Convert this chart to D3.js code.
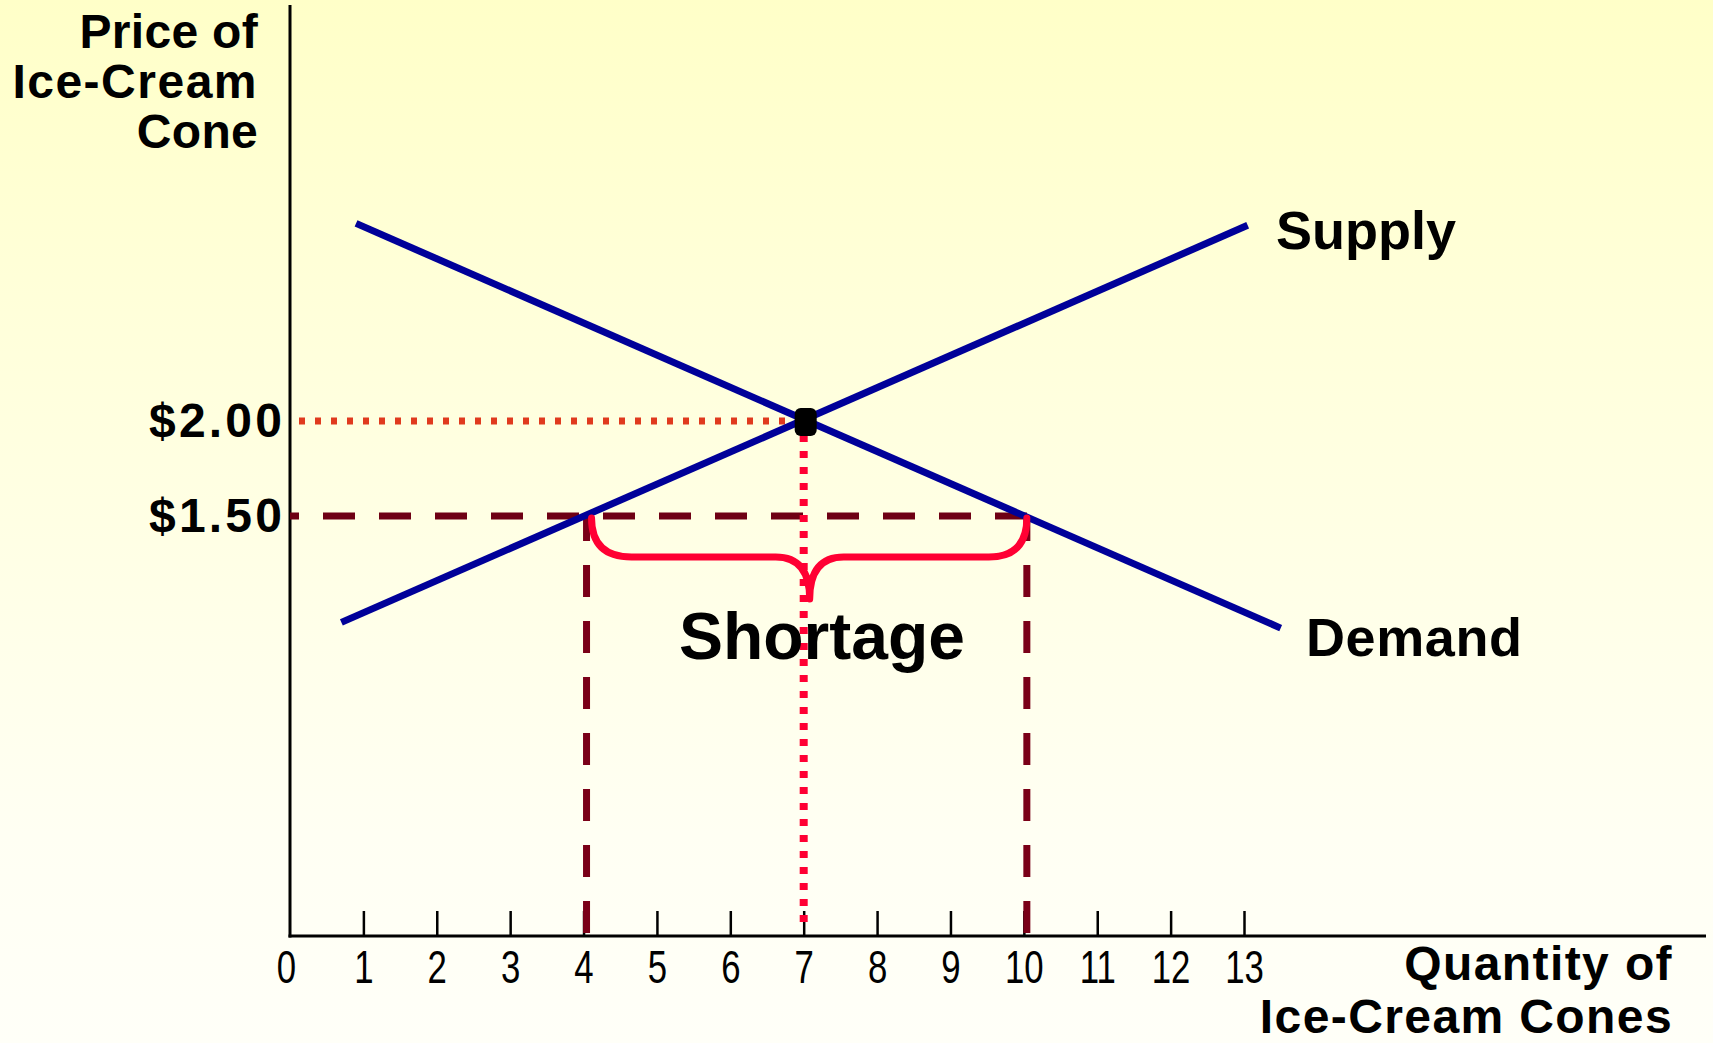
<!DOCTYPE html>
<html>
<head>
<meta charset="utf-8">
<script src="https://cdn.jsdelivr.net/npm/d3@7"></script>
<style>
  html, body { margin: 0; padding: 0; background: #fffff0; }
  svg { display: block; }
  text { font-family: "Liberation Sans", Arial, Helvetica, sans-serif; }
</style>
</head>
<body>
<svg id="chart" width="1713" height="1043"></svg>
<script>
// ---------- data ----------
const quantityTicks = [0, 1, 2, 3, 4, 5, 6, 7, 8, 9, 10, 11, 12, 13];
const priceTicks = [1.5, 2.0];
const priceTickLabels = ["$1.50", "$2.00"];
const supplyQ = [0.7, 13.05];
const supplyP = [0.94, 3.03];
const demandQ = [0.9, 13.5];
const demandP = [3.04, 0.91];
const equilibrium = { q: 7, p: 2.0 };
const shortagePrice = 1.5;
const quantitySupplied = 4;
const quantityDemanded = 10;
const yTitleLines = ["Price of", "Ice-Cream", "Cone"];
const xTitleLines = ["Quantity of", "Ice-Cream Cones"];

// ---------- layout ----------
const W = 1713, H = 1043;
const originX = 290, axisY = 936, axisTop = 5, axisRight = 1706;

const svg = d3.select("#chart");
const defs = svg.append("defs");
const grad = defs.append("linearGradient").attr("id", "bg")
  .attr("x1", 0).attr("y1", 0).attr("x2", 0).attr("y2", 1);
[[0, "#ffffc8"], [0.3, "#ffffda"], [0.8, "#fffff3"], [1, "#fffff8"]]
  .forEach(([o, c]) => grad.append("stop").attr("offset", o).attr("stop-color", c));
svg.append("rect").attr("width", W).attr("height", H).attr("fill", "url(#bg)");

const x = d3.scaleLinear().domain([0, 13]).range([originX, 1244]);
const y = d3.scaleLinear().domain([1.5, 2.0]).range([516, 421]);

// ---------- x axis ticks ----------
const xAxis = d3.axisBottom(x)
  .tickValues(quantityTicks)
  .tickSize(-25)
  .tickPadding(14)
  .tickFormat(d3.format("d"));
const gx = svg.append("g").attr("transform", `translate(0,${axisY})`).call(xAxis);
gx.select(".domain").remove();
gx.selectAll(".tick line").attr("stroke", "#000").attr("stroke-width", 2.5)
  .filter(d => d === 0).remove();
gx.selectAll(".tick text")
  .attr("font-family", "'Liberation Sans', Arial, sans-serif")
  .attr("font-size", 47)
  .attr("fill", "#000")
  .attr("transform", d => `translate(${d === 0 ? -4 : 0},0) scale(0.74,1)`);

// ---------- axis lines ----------
svg.append("line").attr("x1", originX).attr("x2", originX)
  .attr("y1", axisTop).attr("y2", axisY + 1.5)
  .attr("stroke", "#000").attr("stroke-width", 3);
svg.append("line").attr("x1", originX - 1.5).attr("x2", axisRight)
  .attr("y1", axisY).attr("y2", axisY)
  .attr("stroke", "#000").attr("stroke-width", 3);

// ---------- price labels ----------
svg.selectAll("text.price").data(priceTicks).enter().append("text")
  .attr("class", "price")
  .attr("x", 149)
  .attr("y", d => y(d) + 16)
  .attr("font-size", 48).attr("font-weight", "bold")
  .attr("letter-spacing", 3.2)
  .text((d, i) => priceTickLabels[i]);

// ---------- reference lines ----------
// dotted horizontal at equilibrium price
svg.append("line")
  .attr("x1", originX + 9).attr("x2", x(equilibrium.q) - 8)
  .attr("y1", y(equilibrium.p)).attr("y2", y(equilibrium.p))
  .attr("stroke", "#e03a1e").attr("stroke-width", 7)
  .attr("stroke-dasharray", "6 10");

// dashed horizontal at shortage price
svg.append("line")
  .attr("x1", originX).attr("x2", x(quantityDemanded) + 4)
  .attr("y1", y(shortagePrice)).attr("y2", y(shortagePrice))
  .attr("stroke", "#6e0014").attr("stroke-width", 7)
  .attr("stroke-dasharray", "32 24").attr("stroke-dashoffset", 23);

// dashed verticals at quantity supplied / demanded
svg.selectAll("line.qv").data([quantitySupplied, quantityDemanded]).enter().append("line")
  .attr("class", "qv")
  .attr("x1", d => x(d) + 3).attr("x2", d => x(d) + 3)
  .attr("y1", axisY - 3).attr("y2", y(shortagePrice))
  .attr("stroke", "#7a0018").attr("stroke-width", 7)
  .attr("stroke-dasharray", "32 24");

// dotted vertical at equilibrium quantity
svg.append("line")
  .attr("x1", x(equilibrium.q)).attr("x2", x(equilibrium.q))
  .attr("y1", y(equilibrium.p) + 14).attr("y2", axisY - 10)
  .attr("stroke", "#ff0033").attr("stroke-width", 8)
  .attr("stroke-dasharray", "7 9");

// ---------- supply and demand ----------
const lineGen = d3.line().x(d => x(d[0])).y(d => y(d[1]));
svg.append("path").datum(supplyQ.map((q, i) => [q, supplyP[i]]))
  .attr("d", lineGen).attr("fill", "none")
  .attr("stroke", "#000099").attr("stroke-width", 7);
svg.append("path").datum(demandQ.map((q, i) => [q, demandP[i]]))
  .attr("d", lineGen).attr("fill", "none")
  .attr("stroke", "#000099").attr("stroke-width", 7);

// equilibrium marker
svg.append("rect")
  .attr("x", x(equilibrium.q) - 9).attr("y", y(equilibrium.p) - 13)
  .attr("width", 22).attr("height", 28).attr("rx", 6).attr("ry", 6)
  .attr("fill", "#000");

// ---------- brace ----------
const x4 = x(quantitySupplied) + 3, x10 = x(quantityDemanded) + 3;
const xm = (x4 + x10) / 2 + 3;
const braceTop = y(shortagePrice) + 2, braceMid = braceTop + 39, braceTip = braceTop + 81;
const bracePath = d3.path();
bracePath.moveTo(x4 + 5, braceTop);
bracePath.quadraticCurveTo(x4 + 5, braceMid, x4 + 45, braceMid);
bracePath.lineTo(xm - 34, braceMid);
bracePath.quadraticCurveTo(xm, braceMid, xm, braceTip);
bracePath.quadraticCurveTo(xm, braceMid, xm + 34, braceMid);
bracePath.lineTo(x10 - 38, braceMid);
bracePath.quadraticCurveTo(x10, braceMid, x10, braceTop);
svg.append("path").attr("d", bracePath.toString())
  .attr("fill", "none").attr("stroke", "#ff0033").attr("stroke-width", 7)
  .attr("stroke-linecap", "round").attr("stroke-linejoin", "round");

// ---------- text labels ----------
svg.append("text").attr("x", 822).attr("y", 659)
  .attr("text-anchor", "middle").attr("font-size", 66).attr("font-weight", "bold")
  .text("Shortage");
svg.append("text").attr("x", 1276).attr("y", 249)
  .attr("font-size", 54).attr("font-weight", "bold").text("Supply");
svg.append("text").attr("x", 1306).attr("y", 656)
  .attr("font-size", 54).attr("font-weight", "bold").attr("letter-spacing", 0.6).text("Demand");

svg.append("g").selectAll("text").data(yTitleLines).enter().append("text")
  .attr("x", 258).attr("y", (d, i) => 48 + i * 50)
  .attr("text-anchor", "end").attr("font-size", 48).attr("font-weight", "bold")
  .attr("letter-spacing", d => d.startsWith("Ice") ? 1.5 : 0.3)
  .text(d => d);

svg.append("g").selectAll("text").data(xTitleLines).enter().append("text")
  .attr("x", 1673).attr("y", (d, i) => 980 + i * 53)
  .attr("text-anchor", "end").attr("font-size", 48).attr("font-weight", "bold")
  .attr("letter-spacing", 1.4)
  .text(d => d);
</script>
</body>
</html>
